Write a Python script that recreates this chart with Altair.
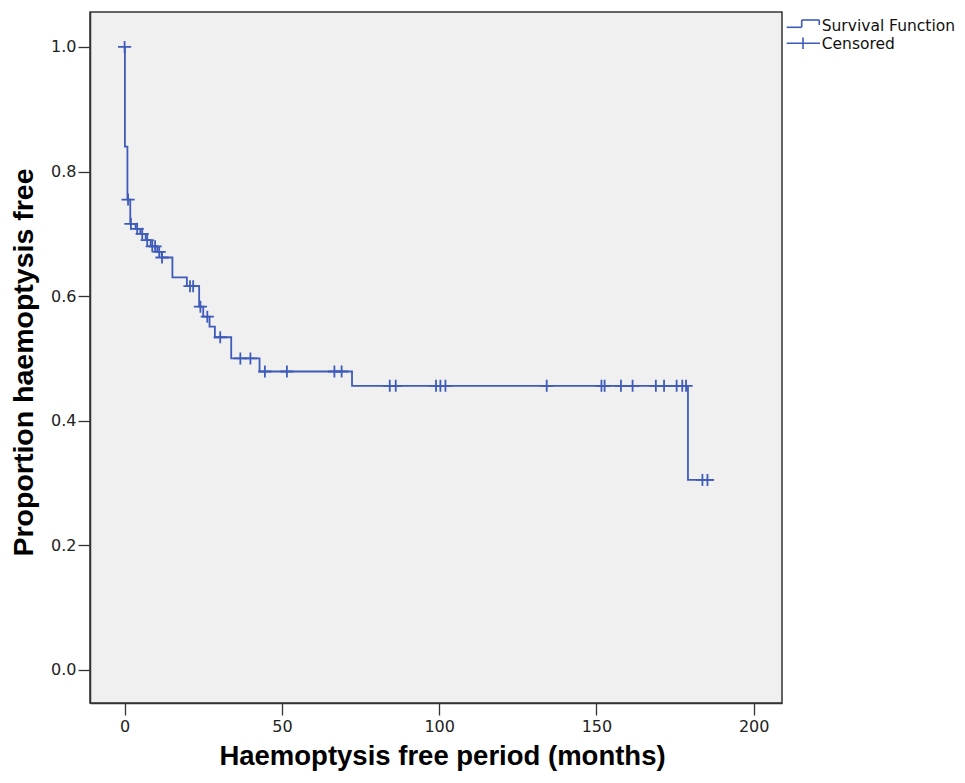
import altair as alt
import pandas as pd

# Kaplan-Meier step curve (time in months, proportion haemoptysis free)
step_t = [0, 0.1, 0.9, 1.8, 3.5, 5.0, 6.7, 8.3, 10.4, 11.8, 15.2, 19.8, 23.7, 25.0,
          27.0, 28.7, 33.9, 42.9, 72.3, 179.1, 187.2]
step_s = [1.0, 0.840, 0.755, 0.716, 0.708, 0.700, 0.690, 0.680, 0.671, 0.662, 0.630,
          0.616, 0.583, 0.567, 0.551, 0.534, 0.500, 0.479, 0.456, 0.305, 0.305]

# Censored observations
cens_t = [0, 1.1, 2.0, 4.0, 5.6, 7.2, 8.8, 9.7, 11.0, 11.9, 20.8, 21.8, 24.1, 26.3,
          30.4, 36.8, 40.0, 44.6, 51.6, 66.7, 69.0, 84.3, 86.2, 99.0, 100.4, 102.0,
          134.2, 151.6, 152.6, 157.8, 161.5, 168.9, 171.5, 175.5, 177.3, 178.5,
          183.7, 185.3]
cens_s = [1.0, 0.755, 0.716, 0.708, 0.700, 0.690, 0.680, 0.680, 0.671, 0.662, 0.616,
          0.616, 0.583, 0.567, 0.534, 0.500, 0.500, 0.479, 0.479, 0.479, 0.479,
          0.456, 0.456, 0.456, 0.456, 0.456, 0.456, 0.456, 0.456, 0.456, 0.456,
          0.456, 0.456, 0.456, 0.456, 0.456, 0.305, 0.305]

x_ticks = [0, 50, 100, 150, 200]
y_ticks = [0.0, 0.2, 0.4, 0.6, 0.8, 1.0]
legend_labels = ["Survival Function", "Censored"]

BLUE = "#3F5BBA"
W, H = 692, 691

steps = pd.DataFrame({"t": step_t, "S": step_s})
cens = pd.DataFrame({"t": cens_t, "S": cens_s})

xscale = alt.Scale(domain=[-11, 209], nice=False, zero=False)
yscale = alt.Scale(domain=[-0.053, 1.056], nice=False, zero=False)

xaxis = alt.Axis(values=x_ticks, title="Haemoptysis free period (months)",
                 tickSize=12, labelPadding=3, grid=False,
                 titleX=352, titleY=61, titleBaseline="alphabetic", titleAlign="center",
                 titleFontSize=27.5)
yaxis = alt.Axis(values=y_ticks, format=".1f", title="Proportion haemoptysis free",
                 tickSize=12, labelPadding=2, grid=False,
                 titleX=-57.5, titleY=350, titleBaseline="alphabetic", titleAlign="center",
                 titleAngle=270)

line = alt.Chart(steps).mark_line(interpolate="step-after", color=BLUE, strokeWidth=1.8).encode(
    x=alt.X("t:Q", scale=xscale, axis=xaxis),
    y=alt.Y("S:Q", scale=yscale, axis=yaxis),
)

cross = "M-1.1,0H1.1M0,-1V1"
points = alt.Chart(cens).mark_point(shape=cross, filled=False, color=BLUE, strokeWidth=1.8,
                                    size=144, opacity=1).encode(
    x=alt.X("t:Q", scale=xscale),
    y=alt.Y("S:Q", scale=yscale),
)

one = pd.DataFrame({"k": [0]})

def rule(x1, x2, y1, y2):
    return alt.Chart(one).mark_rule(color=BLUE, strokeWidth=1.6).encode(
        x=alt.value(x1), x2=alt.value(x2), y=alt.value(y1), y2=alt.value(y2))

legend_marks = [
    rule(696.7, 711.7, 15.3, 15.3),
    rule(711.7, 711.7, 8, 15.3),
    rule(711.7, 729.3, 8, 8),
    rule(729.3, 729.3, 8, 13),
    rule(696.7, 730, 31.3, 31.3),
    rule(713, 713, 25.5, 37),
]

def label(text, y):
    return alt.Chart(pd.DataFrame({"lab": [text]})).mark_text(
        align="left", baseline="alphabetic", font="DejaVu Sans", fontSize=15.5,
        color="#111").encode(x=alt.value(731.7), y=alt.value(y), text="lab:N")

legend_text = [label(legend_labels[0], 18.7), label(legend_labels[1], 37.2)]

chart = alt.layer(line, points, *legend_marks, *legend_text).properties(
    width=W, height=H,
    autosize=alt.AutoSizeParams(type="none"),
    padding={"left": 82, "top": 4, "right": 175, "bottom": 69},
    background="white",
).configure_view(
    fill="#F0F0F0", stroke="#333333", strokeWidth=1.5
).configure_axis(
    labelFont="DejaVu Sans", labelFontSize=16, labelColor="#222222",
    titleFont="Liberation Sans", titleFontSize=28.5, titleFontWeight="bold", titleColor="#000000",
    domainColor="#333333", domainWidth=1.5, tickColor="#333333", tickWidth=1.3,
)

chart.save("out.html", embed_options={"renderer": "svg", "actions": False})
